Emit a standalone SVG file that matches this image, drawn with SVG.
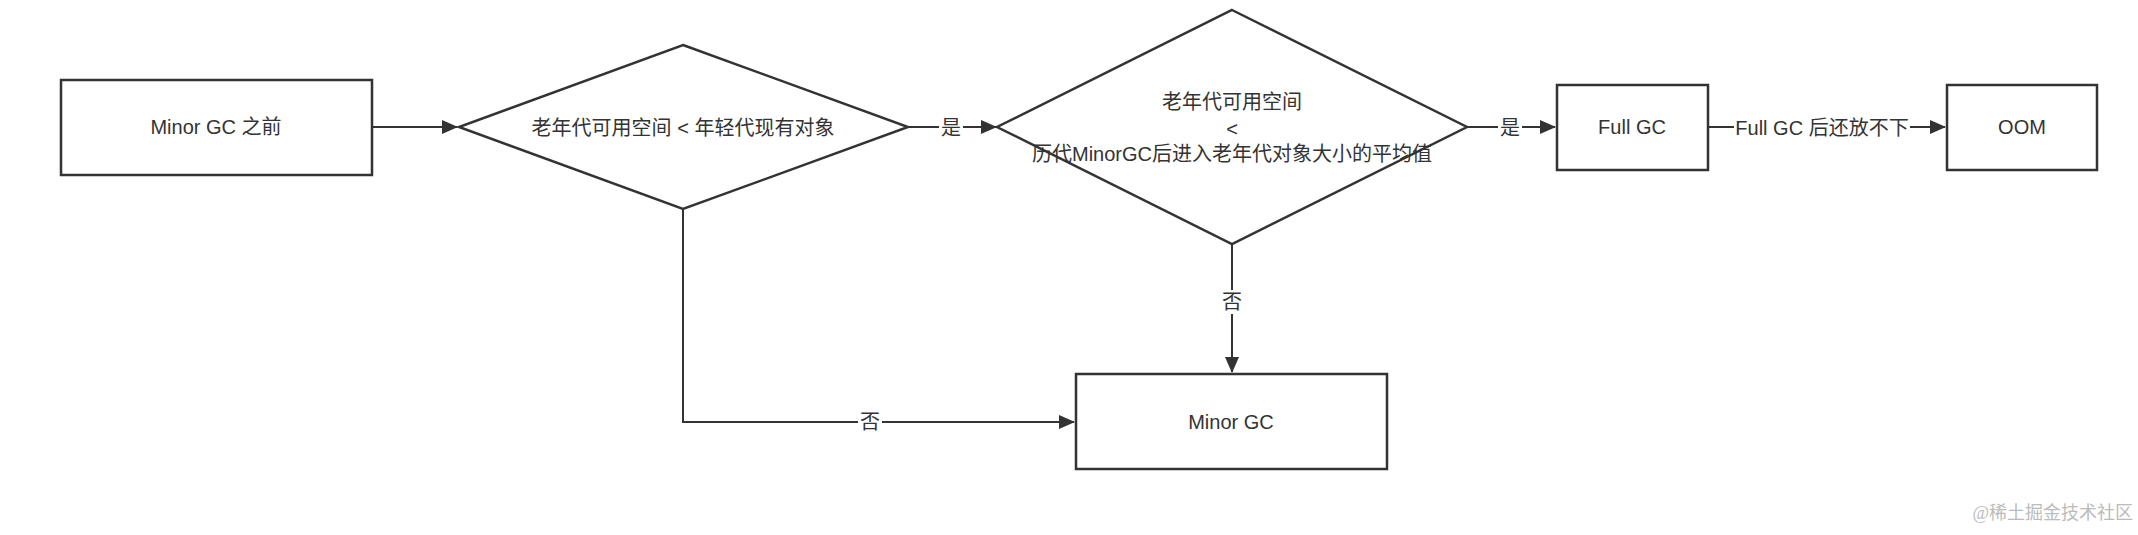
<svg xmlns="http://www.w3.org/2000/svg" width="2138" height="535" viewBox="0 0 2138 535">
<style>
.n{fill:#fff;stroke:#333;stroke-width:2.5}
.t{font-family:"Liberation Sans","Noto Sans CJK SC",sans-serif;font-size:20px;fill:#333;text-anchor:middle;dominant-baseline:central}
.c{fill:none;stroke:#333;stroke-width:2}
.lb{fill:#fff}
</style>
<defs><marker id="a" markerWidth="16" markerHeight="16" refX="15" refY="7" orient="auto" markerUnits="userSpaceOnUse"><path d="M0,0L16,7L0,14Z" fill="#333"/></marker></defs>
<g id="edges">
<path class="c" d="M372,127H457" marker-end="url(#a)"/>
<path class="c" d="M908,127H996" marker-end="url(#a)"/>
<path class="c" d="M1467,127H1555" marker-end="url(#a)"/>
<path class="c" d="M1708,127H1945" marker-end="url(#a)"/>
<path class="c" d="M1232,244V372" marker-end="url(#a)"/>
<path class="c" d="M683,209V422H1074" marker-end="url(#a)"/>
<rect class="lb" x="939" y="115" width="24" height="24"/><text class="t" x="951" y="128">是</text>
<rect class="lb" x="1498" y="115" width="24" height="24"/><text class="t" x="1510" y="128">是</text>
<rect class="lb" x="1734" y="115" width="176" height="24"/><text class="t" x="1822" y="128">Full GC 后还放不下</text>
<rect class="lb" x="1220" y="290" width="24" height="24"/><text class="t" x="1232" y="302">否</text>
<rect class="lb" x="858" y="410" width="24" height="24"/><text class="t" x="870" y="422">否</text>
</g>
<g id="n1"><rect class="n" x="61" y="80" width="311" height="95"/><text class="t" x="216" y="127">Minor GC 之前</text></g>
<g id="n2"><path class="n" d="M683,45L908,127L683,209L459,127Z"/><text class="t" x="683" y="128">老年代可用空间 &lt; 年轻代现有对象</text></g>
<g id="n3"><path class="n" d="M1232,10L1467,127L1232,244L997,127Z"/><text class="t" x="1232" y="102">老年代可用空间</text><text class="t" x="1232" y="129">&lt;</text><text class="t" x="1232" y="154">历代MinorGC后进入老年代对象大小的平均值</text></g>
<g id="n4"><rect class="n" x="1557" y="85" width="151" height="85"/><text class="t" x="1632" y="127">Full GC</text></g>
<g id="n5"><rect class="n" x="1947" y="85" width="150" height="85"/><text class="t" x="2022" y="127">OOM</text></g>
<g id="n6"><rect class="n" x="1076" y="374" width="311" height="95"/><text class="t" x="1231" y="422">Minor GC</text></g>
<text x="2133" y="519" style="font-family:'Liberation Serif','Noto Sans CJK SC',serif;font-size:18px;fill:#bbb;text-anchor:end">@稀土掘金技术社区</text>
</svg>
